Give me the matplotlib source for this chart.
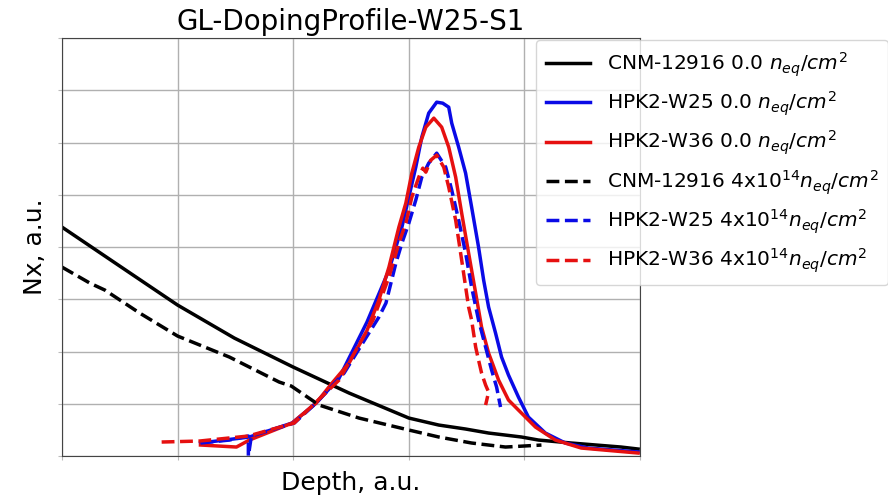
import matplotlib
matplotlib.use('Agg')
import matplotlib.pyplot as plt

# values (arbitrary units: depth 0-5, Nx 0-8)
cnm_0_x = [0, 0.5, 1.0, 1.491, 2.0, 2.483, 3.0, 3.259, 3.491, 3.690, 3.974, 4.121, 4.405, 4.836, 4.983]
cnm_0_y = [4.383, 3.636, 2.890, 2.258, 1.703, 1.206, 0.727, 0.593, 0.517, 0.440, 0.364, 0.306, 0.249,
           0.172, 0.134]

w25_0_x = [1.198, 1.621, 1.991, 2.198, 2.397, 2.638, 2.828, 2.940, 3.000, 3.060, 3.112, 3.172, 3.241,
           3.293, 3.345, 3.371, 3.431, 3.491, 3.543, 3.603, 3.647, 3.690, 3.750, 3.802, 3.862, 3.948,
           4.034, 4.181, 4.353, 4.552, 4.983]
w25_0_y = [0.249, 0.364, 0.632, 1.014, 1.493, 2.565, 3.560, 4.383, 4.957, 5.531, 6.105, 6.565, 6.775,
           6.756, 6.679, 6.373, 5.914, 5.416, 4.766, 4.000, 3.368, 2.852, 2.354, 1.895, 1.550, 1.129,
           0.746, 0.440, 0.249, 0.153, 0.077]

w36_0_x = [1.198, 1.509, 1.621, 1.991, 2.052, 2.198, 2.336, 2.483, 2.629, 2.741, 2.828, 2.914, 2.974,
           3.026, 3.086, 3.147, 3.216, 3.284, 3.345, 3.405, 3.457, 3.517, 3.578, 3.629, 3.690, 3.776,
           3.862, 3.948, 4.095, 4.267, 4.491, 4.983]
w36_0_y = [0.211, 0.172, 0.306, 0.632, 0.746, 1.014, 1.397, 1.780, 2.354, 2.986, 3.617, 4.383, 4.842,
           5.416, 5.914, 6.297, 6.469, 6.297, 5.914, 5.340, 4.651, 3.885, 3.120, 2.469, 1.971, 1.455,
           1.072, 0.880, 0.555, 0.306, 0.153, 0.057]

cnm_4_x = [0, 0.241, 0.371, 0.672, 1.0, 1.448, 1.879, 1.983, 2.224, 2.569, 3.0, 3.259, 3.543, 3.836,
           4.147]
cnm_4_y = [3.617, 3.311, 3.177, 2.737, 2.297, 1.895, 1.416, 1.340, 0.976, 0.727, 0.498, 0.364, 0.249,
           0.172, 0.210]

w25_4_x = [1.198, 1.448, 1.612, 1.612, 1.638, 2.009, 2.198, 2.440, 2.638, 2.741, 2.802, 2.888, 2.940,
           3.000, 3.060, 3.112, 3.172, 3.241, 3.319, 3.371, 3.431, 3.491, 3.543, 3.603, 3.664, 3.716,
           3.759, 3.793]
w25_4_y = [0.249, 0.306, 0.383, 0.0, 0.383, 0.632, 1.014, 1.588, 2.296, 2.660, 2.928, 3.694, 4.077,
           4.459, 4.900, 5.340, 5.608, 5.799, 5.531, 5.091, 4.517, 3.885, 3.234, 2.603, 2.086, 1.646,
           1.321, 0.938]

w36_4_x = [0.862, 1.190, 1.612, 2.009, 2.397, 2.690, 2.828, 2.914, 2.974, 3.026, 3.086, 3.121, 3.147,
           3.190, 3.241, 3.302, 3.345, 3.405, 3.457, 3.517, 3.543, 3.578, 3.603, 3.629, 3.664, 3.690,
           3.664]
w36_4_y = [0.268, 0.287, 0.383, 0.632, 1.455, 2.603, 3.426, 4.077, 4.459, 4.957, 5.340, 5.512, 5.435,
           5.665, 5.761, 5.531, 5.148, 4.517, 3.751, 2.852, 2.603, 2.086, 1.837, 1.589, 1.359, 1.225,
           0.976]

labels = ['CNM-12916 0.0 $n_{eq}/cm^2$',
          'HPK2-W25 0.0 $n_{eq}/cm^2$',
          'HPK2-W36 0.0 $n_{eq}/cm^2$',
          'CNM-12916 4x10$^{14}$$n_{eq}/cm^2$',
          'HPK2-W25 4x10$^{14}$$n_{eq}/cm^2$',
          'HPK2-W36 4x10$^{14}$$n_{eq}/cm^2$']

fig = plt.figure(figsize=(8.88, 4.96), dpi=100)
ax = fig.add_axes([0.0698, 0.0806, 0.651, 0.8424])

ax.plot(cnm_0_x, cnm_0_y, color='black', lw=2.5, label=labels[0])
ax.plot(w25_0_x, w25_0_y, color='#0a0ae6', lw=2.5, label=labels[1])
ax.plot(w36_0_x, w36_0_y, color='#e61010', lw=2.5, label=labels[2])
ax.plot(cnm_4_x, cnm_4_y, color='black', lw=2.5, ls='--', label=labels[3])
ax.plot(w25_4_x, w25_4_y, color='#0a0ae6', lw=2.5, ls='--', label=labels[4])
ax.plot(w36_4_x, w36_4_y, color='#e61010', lw=2.5, ls='--', label=labels[5])

ax.set_xlim(0, 5)
ax.set_ylim(0, 8)
ax.set_xticks(range(6))
ax.set_yticks(range(9))
ax.set_xticklabels([])
ax.set_yticklabels([])
ax.tick_params(length=3, color='#bbbbbb')
ax.grid(True, color='#b0b0b0', lw=1)
for s in ax.spines.values():
    s.set_color('#444444')

ax.set_title('GL-DopingProfile-W25-S1', fontsize=20)
ax.set_xlabel('Depth, a.u.', fontsize=18)
ax.set_ylabel('Nx, a.u.', fontsize=18)

ax.legend(loc='upper left', bbox_to_anchor=(0.82, 0.995), borderaxespad=0, fontsize=14.5,
          labelspacing=0.54, borderpad=0.5, handlelength=2.2, framealpha=0.8)

fig.savefig('out.png', dpi=100)
